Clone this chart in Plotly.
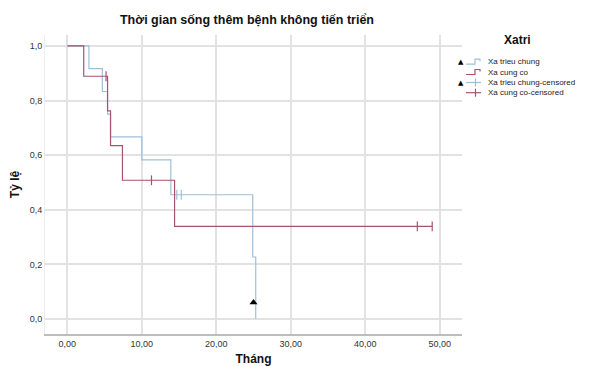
import plotly.graph_objects as go

# ---- data ----
blue_name = "Xa trieu chung"
blue_time = [0, 2.9, 4.7, 5.4, 5.8, 10.0, 13.9, 24.9, 25.3]
blue_surv = [1.0, 0.917, 0.833, 0.75, 0.667, 0.583, 0.455, 0.227, 0.0]
blue_cens_time = [14.7, 15.3]
blue_cens_surv = [0.455, 0.455]

red_name = "Xa cung co"
red_time = [0, 2.2, 5.4, 5.8, 7.4, 14.4, 49.0]
red_surv = [1.0, 0.889, 0.762, 0.635, 0.508, 0.339, 0.339]
red_cens_time = [5.2, 11.3, 47.0, 49.0]
red_cens_surv = [0.889, 0.508, 0.339, 0.339]

tri_time = [25.0]
tri_surv = [0.06]

x_ticks = [0, 10, 20, 30, 40, 50]
x_ticktext = ["0,00", "10,00", "20,00", "30,00", "40,00", "50,00"]
y_ticks = [0.0, 0.2, 0.4, 0.6, 0.8, 1.0]
y_ticktext = ["0,0", "0,2", "0,4", "0,6", "0,8", "1,0"]

legend_title = "Xatri"
legend_labels = ["Xa trieu chung", "Xa cung co", "Xa trieu chung-censored", "Xa cung co-censored"]

BLUE = "#9fc0da"
RED = "#a8526f"
FONT = "Liberation Sans, Arial, sans-serif"

# page body adds an 8px offset; figure coordinates below are window pixels minus 8
OFF = 8
FW, FH = 595 - OFF, 366 - OFF

fig = go.Figure()
fig.add_trace(go.Scatter(x=blue_time, y=blue_surv, mode="lines", line=dict(color=BLUE, width=1.2, shape="hv"),
                         name=blue_name, showlegend=False))
fig.add_trace(go.Scatter(x=red_time, y=red_surv, mode="lines", line=dict(color=RED, width=1.2, shape="hv"),
                         name=red_name, showlegend=False))
fig.add_trace(go.Scatter(x=blue_cens_time, y=blue_cens_surv, mode="markers",
                         marker=dict(symbol="line-ns-open", size=7, color=BLUE, line=dict(color=BLUE, width=1.2)),
                         showlegend=False))
fig.add_trace(go.Scatter(x=red_cens_time, y=red_cens_surv, mode="markers",
                         marker=dict(symbol="line-ns-open", size=7, color=RED, line=dict(color=RED, width=1.2)),
                         showlegend=False))
fig.add_trace(go.Scatter(x=tri_time, y=tri_surv, mode="markers",
                         marker=dict(symbol="triangle-up", size=7, color="black"),
                         showlegend=False))

# plot area in window pixels: left 45, right 462, top 35, bottom 334
L, R, T, B = 45, 462, 35, 334
W, H = R - L, B - T

def px(x):
    return (x - L) / W

def py(y):
    return (B - y) / H

shapes = []
annotations = []
annotations.append(dict(x=px(517), y=py(40), xref="paper", yref="paper", text="<b>" + legend_title + "</b>",
                        showarrow=False, font=dict(family=FONT, size=12, color="#111"), xanchor="center", yanchor="middle"))
row_y = [61.7, 72.0, 82.5, 92.7]
colors = [BLUE, RED, BLUE, RED]
for i, (lab, ry, c) in enumerate(zip(legend_labels, row_y, colors)):
    annotations.append(dict(x=px(486), y=py(ry), xref="paper", yref="paper", text=lab, showarrow=False,
                            font=dict(family=FONT, size=8, color="#222"), xanchor="left", yanchor="middle"))
    if i < 2:
        path = "M {} {} L {} {} L {} {} L {} {} L {} {}".format(
            px(466), py(ry + 2.5), px(475), py(ry + 2.5), px(475), py(ry - 2.5), px(480), py(ry - 2.5), px(480), py(ry - 0.5))
        shapes.append(dict(type="path", path=path, xref="paper", yref="paper", line=dict(color=c, width=1.2)))
    else:
        shapes.append(dict(type="line", x0=px(466), x1=px(481), y0=py(ry), y1=py(ry), xref="paper", yref="paper",
                           line=dict(color=c, width=1.2)))
        shapes.append(dict(type="line", x0=px(475.5), x1=px(475.5), y0=py(ry - 4), y1=py(ry + 4), xref="paper",
                           yref="paper", line=dict(color=c, width=1.2)))
    if i in (0, 2):
        annotations.append(dict(x=px(461), y=py(ry), xref="paper", yref="paper", text="▲", showarrow=False,
                                font=dict(family="DejaVu Sans", size=7, color="black"), xanchor="center", yanchor="middle"))

fig.update_layout(
    width=FW, height=FH,
    margin=dict(l=L - OFF, r=595 - R, t=T - OFF, b=366 - B, autoexpand=False),
    paper_bgcolor="white", plot_bgcolor="white",
    font=dict(family=FONT, size=9, color="#333"),
    title=dict(text="<b>Thời gian sống thêm bệnh không tiến triển</b>", x=(247 - OFF) / FW,
               xanchor="center", y=1 - (20 - OFF) / FH, yanchor="middle",
               font=dict(family=FONT, size=12.5, color="#111")),
    showlegend=False,
    shapes=shapes,
    annotations=annotations,
    xaxis=dict(range=[-3, 53], tickvals=x_ticks, ticktext=x_ticktext, showgrid=True, gridcolor="#e2e2e2",
               gridwidth=1.5, zeroline=False, showline=True, linecolor="#bdbdbd", linewidth=1.5, ticks="",
               automargin=False, tickfont=dict(family=FONT, size=9, color="#333"),
               title=dict(text="<b>Tháng</b>", font=dict(family=FONT, size=12, color="#111"))),
    yaxis=dict(range=[-0.055, 1.04], tickvals=y_ticks, ticktext=y_ticktext, showgrid=True, gridcolor="#e2e2e2",
               gridwidth=1.5, zeroline=False, showline=True, linecolor="#ececec", linewidth=1, ticks="",
               automargin=False, tickfont=dict(family=FONT, size=9, color="#333"),
               title=dict(text="<b>Tỷ lệ</b>", font=dict(family=FONT, size=12, color="#111"))),
)

fig.write_html("out.html")
